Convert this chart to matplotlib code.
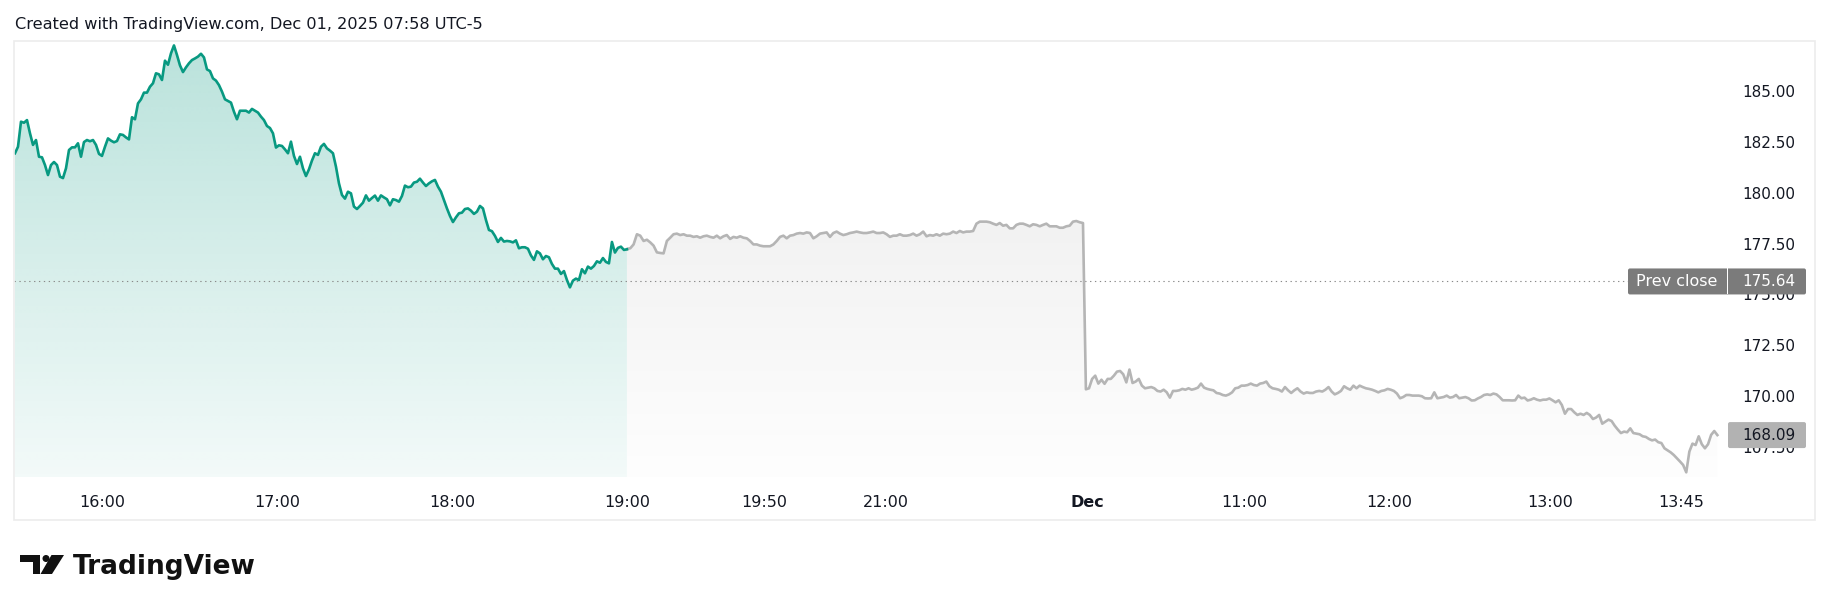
import numpy as np
import matplotlib
matplotlib.use("Agg")
import matplotlib.pyplot as plt
import matplotlib.transforms as mtransforms
from matplotlib.patches import Rectangle, Polygon, Circle, FancyBboxPatch

# ---------------- data ----------------
header = "Created with TradingView.com, Dec 01, 2025 07:58 UTC-5"
prev_close = 175.64

# regular session (15:30 - 19:00), green
regular_prices = [
    181.94, 182.26, 183.49, 183.44, 183.57, 182.92, 182.35, 182.59, 181.77, 181.74,
    181.36, 180.87, 181.36, 181.51, 181.36, 180.79, 180.72, 181.20, 182.10, 182.23,
    182.23, 182.43, 181.77, 182.49, 182.59, 182.53, 182.59, 182.35, 181.91, 181.81,
    182.26, 182.67, 182.56, 182.48, 182.54, 182.87, 182.84, 182.72, 182.62, 183.71,
    183.61, 184.39, 184.59, 184.92, 184.92, 185.21, 185.38, 185.87, 185.82, 185.54,
    186.49, 186.29, 186.85, 187.24, 186.77, 186.26, 185.93, 186.16, 186.36, 186.52,
    186.60, 186.69, 186.83, 186.65, 186.06, 185.98, 185.62, 185.51, 185.29, 184.97,
    184.59, 184.51, 184.43, 183.98, 183.61, 184.03, 184.03, 184.03, 183.94, 184.12,
    184.03, 183.94, 183.74, 183.57, 183.28, 183.18, 182.92, 182.22, 182.33, 182.30,
    182.13, 181.94, 182.51, 181.81, 181.41, 181.77, 181.20, 180.82, 181.15, 181.58,
    181.94, 181.86, 182.26, 182.40, 182.18, 182.07, 181.94, 181.28, 180.46, 179.89,
    179.71, 180.05, 179.97, 179.32, 179.20, 179.35, 179.51, 179.87, 179.61, 179.74,
    179.86, 179.61, 179.87, 179.77, 179.68, 179.38, 179.68, 179.64, 179.56, 179.84,
    180.35, 180.27, 180.30, 180.50, 180.54, 180.69, 180.50, 180.33, 180.46, 180.56,
    180.63, 180.30, 180.05, 179.64, 179.23, 178.86, 178.56, 178.79, 178.99, 179.02,
    179.20, 179.23, 179.12, 178.96, 179.07, 179.35, 179.23, 178.66, 178.17, 178.11,
    177.88, 177.58, 177.78, 177.60, 177.63, 177.61, 177.56, 177.66, 177.27, 177.32,
    177.32, 177.25, 176.92, 176.70, 177.12, 177.02, 176.73, 176.89, 176.83, 176.50,
    176.27, 176.27, 176.01, 176.15, 175.71, 175.35, 175.68, 175.78, 175.71, 176.24,
    176.04, 176.37, 176.27, 176.40, 176.63, 176.56, 176.79, 176.60, 176.53, 177.58,
    177.06, 177.29, 177.35, 177.19, 177.22,
]

# extended session after 19:00, grey
extended_prices = [
    177.24, 177.27, 177.46, 177.96, 177.89, 177.63, 177.69, 177.56, 177.40, 177.07,
    177.04, 177.02, 177.63, 177.79, 177.96, 177.99, 177.92, 177.96, 177.89, 177.89,
    177.83, 177.86, 177.79, 177.86, 177.89, 177.83, 177.79, 177.89, 177.76, 177.86,
    177.92, 177.73, 177.83, 177.79, 177.86, 177.79, 177.76, 177.63, 177.46, 177.46,
    177.40, 177.37, 177.37, 177.37, 177.46, 177.63, 177.83, 177.89, 177.76, 177.89,
    177.92, 177.99, 178.02, 177.99, 178.05, 178.02, 177.76, 177.86, 177.99, 178.02,
    178.05, 177.83, 178.02, 178.09, 177.99, 177.92, 177.96, 178.02, 178.05, 178.09,
    178.05, 178.02, 178.02, 178.05, 178.09, 178.02, 178.02, 178.05, 177.96, 177.83,
    177.89, 177.89, 177.96, 177.89, 177.89, 177.92, 177.99, 177.89, 177.96, 178.09,
    177.86, 177.92, 177.89, 177.96, 177.89, 177.99, 177.96, 177.99, 178.09, 178.02,
    178.12, 178.05, 178.09, 178.09, 178.12, 178.48, 178.58, 178.58, 178.58, 178.55,
    178.48, 178.42, 178.51, 178.38, 178.42, 178.25, 178.25, 178.42, 178.48, 178.48,
    178.42, 178.35, 178.45, 178.42, 178.35, 178.42, 178.48, 178.35, 178.35, 178.35,
    178.28, 178.28, 178.35, 178.38, 178.58, 178.61, 178.55, 178.51,
]

# Dec 01 session, grey
dec_prices = [
    170.34, 170.39, 170.85, 171.01, 170.62, 170.81, 170.61, 170.85, 170.85, 171.01,
    171.21, 171.24, 171.08, 170.68, 171.31, 170.65, 170.72, 170.85, 170.52, 170.39,
    170.42, 170.45, 170.39, 170.26, 170.23, 170.32, 170.19, 169.93, 170.26, 170.26,
    170.29, 170.36, 170.32, 170.39, 170.32, 170.36, 170.42, 170.62, 170.42, 170.36,
    170.32, 170.29, 170.16, 170.13, 170.06, 170.03, 170.09, 170.19, 170.39, 170.42,
    170.52, 170.52, 170.55, 170.62, 170.55, 170.52, 170.62, 170.65, 170.72, 170.49,
    170.39, 170.36, 170.32, 170.23, 170.45, 170.29, 170.16, 170.29, 170.39, 170.23,
    170.13, 170.19, 170.16, 170.16, 170.23, 170.26, 170.23, 170.32, 170.45, 170.23,
    170.09, 170.16, 170.26, 170.49, 170.39, 170.32, 170.52, 170.39, 170.52, 170.45,
    170.39, 170.36, 170.32, 170.26, 170.19, 170.26, 170.29, 170.36, 170.32, 170.26,
    170.13, 169.90, 169.96, 170.06,
    170.06, 170.03, 170.03, 170.03, 170.00, 169.90, 169.89, 169.90, 170.19, 169.90,
    169.93, 169.96, 170.03, 169.93, 169.96, 170.06, 169.90, 169.93, 169.96, 169.90,
    169.79, 169.80, 169.89, 169.96, 170.06, 170.09, 170.06, 170.13, 170.09, 169.96,
    169.80, 169.80, 169.80, 169.79, 169.80, 170.03, 169.90, 169.93, 169.79, 169.83,
    169.90, 169.83, 169.79, 169.83, 169.83, 169.89, 169.80, 169.70, 169.80, 169.57,
    169.14, 169.37, 169.37, 169.21, 169.08, 169.14, 169.08, 169.18, 169.08, 168.88,
    168.95, 169.08, 168.65, 168.75, 168.85, 168.78, 168.55, 168.36, 168.19, 168.26,
    168.23, 168.42, 168.19, 168.16, 168.13, 168.03, 168.00, 167.90, 167.83, 167.87,
    167.74, 167.70, 167.44, 167.34, 167.24, 167.11, 166.95, 166.79, 166.62, 166.26,
    167.28, 167.67, 167.60, 168.03, 167.64, 167.44, 167.64, 168.10, 168.29, 168.09,
]

# bar-index span of each session on the (gap-less) time scale
regular_span = (0, 210)
extended_span = (210, 366.5)
dec_span = (367.5, 584.2)

tick_bars = [30, 90, 150, 210, 257, 299, 367.9, 422, 471.5, 527, 571.7]
tick_labels = ["16:00", "17:00", "18:00", "19:00", "19:50", "21:00",
               "Dec", "11:00", "12:00", "13:00", "13:45"]
y_ticks = [167.5, 170.0, 172.5, 175.0, 177.5, 180.0, 182.5, 185.0]

# ---------------- styling ----------------
W, H = 1830, 611
TXT = "#131722"
GREEN = "#089981"
GREY_LINE = "#b5b5b5"
plt.rcParams["font.family"] = ["DejaVu Sans"]

fig = plt.figure(figsize=(W / 100, H / 100), dpi=100)
fig.patch.set_facecolor("white")


def fx(px):
    return px / W


def fy(py):
    return 1 - py / H


PX = mtransforms.Affine2D().scale(1, -1).translate(0, H)  # top-left pixel coords

ax_l, ax_r, ax_t, ax_b = 14, 1728, 41, 477
ax = fig.add_axes([fx(ax_l), fy(ax_b), fx(ax_r) - fx(ax_l), fy(ax_t) - fy(ax_b)])
ax.set_facecolor("none")
for s in ax.spines.values():
    s.set_visible(False)

xr = np.linspace(*regular_span, len(regular_prices))
xe = np.linspace(*extended_span, len(extended_prices))
xd = np.linspace(*dec_span, len(dec_prices))
yr = np.array(regular_prices)
xg = np.concatenate([xe, xd])
yg = np.concatenate([extended_prices, dec_prices])

x_min, x_max = -0.34, 587.85
y_min, y_max = 166.03, 187.457


def gradient_fill(x, y, rgb, a_top, a_bot):
    poly = ax.fill_between(x, y, y_min, facecolor="none", edgecolor="none")
    path = poly.get_paths()[0]
    img = np.zeros((256, 1, 4))
    img[:, :, :3] = rgb
    img[:, 0, 3] = np.linspace(a_top, a_bot, 256)
    im = ax.imshow(img, aspect="auto", origin="upper", interpolation="bilinear",
                   extent=[x.min(), x.max(), y_min, y.max()], zorder=1)
    im.set_clip_path(path, ax.transData)


gradient_fill(xr, yr, (8 / 255, 153 / 255, 129 / 255), 0.28, 0.05)
gradient_fill(xg, yg, (0.0, 0.0, 0.0), 0.055, 0.008)

ax.plot(xr, yr, color=GREEN, lw=1.9, zorder=4, solid_joinstyle="round")
ax.plot(np.concatenate([[xr[-1]], xg]), np.concatenate([[yr[-1]], yg]),
        color=GREY_LINE, lw=1.9, zorder=3, solid_joinstyle="round")

ax.set_xlim(x_min, x_max)
ax.set_ylim(y_min, y_max)

# dotted previous close line up to the label
ax.axhline(prev_close, xmin=0, xmax=(1628 - ax_l) / (ax_r - ax_l), color="#8a8a8a",
           lw=0.8, linestyle=(0, (1.2, 3.2)), zorder=2)

# axes ticks
ax.set_xticks(tick_bars, tick_labels)
ax.tick_params(axis="x", length=0, pad=13, labelsize=11.5, labelcolor=TXT)
ax.get_xticklabels()[tick_labels.index("Dec")].set_fontweight("bold")
ax.yaxis.tick_right()
ax.set_yticks(y_ticks, [f"{v:.2f}" for v in y_ticks])
ax.tick_params(axis="y", length=0, pad=10, labelsize=11, labelcolor=TXT)

# frame around chart + price scale
fig.patches.append(Rectangle((14, 41), 1815 - 14, 520 - 41, transform=PX,
                             facecolor="none", edgecolor="#ececec", lw=1.2, zorder=5))

# header
fig.text(fx(15), fy(28.5), header, fontsize=11.6, color=TXT, va="baseline")


def y_px(v):
    return H - ax.transData.transform((0, v))[1]


fig.canvas.draw()

# prev close label
pc = y_px(prev_close)
fig.patches.append(FancyBboxPatch((1628, pc - 13), 1806 - 1628, 26, transform=PX,
                                  boxstyle="round,pad=0,rounding_size=2",
                                  facecolor="#7b7b7b", edgecolor="none", zorder=6))
fig.patches.append(Rectangle((1727, pc - 13), 1, 26, transform=PX,
                             facecolor="white", edgecolor="none", zorder=7))
fig.text(fx(1677), fy(pc), "Prev close", fontsize=11.5, color="white",
         ha="center", va="center", zorder=8)
fig.text(fx(1742), fy(pc), f"{prev_close:.2f}", fontsize=11, color="white",
         ha="left", va="center", zorder=8)

# last price label
last = dec_prices[-1]
lp = y_px(last)
fig.patches.append(FancyBboxPatch((1728, lp - 13), 1806 - 1728, 26, transform=PX,
                                  boxstyle="round,pad=0,rounding_size=2",
                                  facecolor="#b2b2b2", edgecolor="none", zorder=6))
fig.text(fx(1742), fy(lp), f"{last:.2f}", fontsize=11, color=TXT,
         ha="left", va="center", zorder=8)

# TradingView logo
fig.patches.append(Polygon([(20, 555), (40, 555), (40, 574), (33, 574), (33, 562), (20, 562)],
                           closed=True, transform=PX, facecolor="#111111", zorder=6))
fig.patches.append(Circle((46, 558.5), 3.5, transform=PX, facecolor="#111111", zorder=6))
fig.patches.append(Polygon([(51.5, 555), (64, 555), (52, 574), (40.5, 574)],
                           closed=True, transform=PX, facecolor="#111111", zorder=6))
fig.text(fx(73), fy(574), "TradingView", fontsize=19, fontweight="bold",
         color="#111111", va="baseline")

fig.savefig("out.png", dpi=100, facecolor="white")
